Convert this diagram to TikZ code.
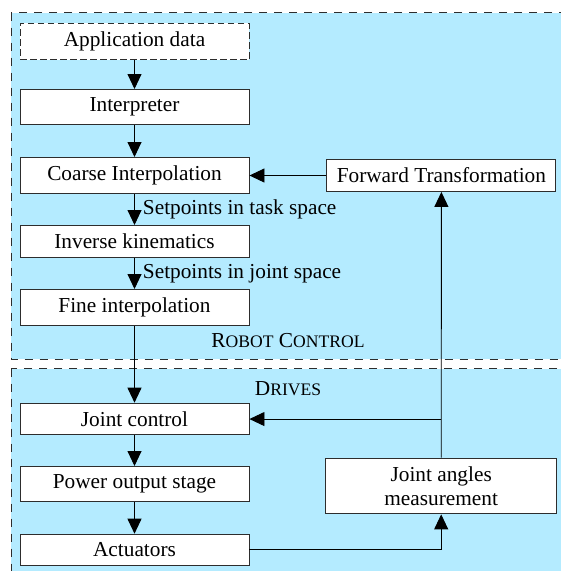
\documentclass[tikz,border=0pt]{standalone}
\usepackage{fontspec}
\setmainfont{Liberation Serif}
\usetikzlibrary{arrows.meta}
\definecolor{regionblue}{RGB}{180,235,255}
\definecolor{edgegray}{RGB}{45,45,45}
\newcommand{\bigfont}{\fontsize{21.3}{24}\selectfont}
\newcommand{\scfont}{\fontsize{17.6}{20}\selectfont}
\tikzset{
  region/.style={fill=regionblue, draw=edgegray, line width=0.9pt, dash pattern=on 8.5pt off 6.5pt},
  blockbox/.style={draw=edgegray, fill=white, line width=0.9pt, minimum width=229pt,
    inner xsep=6pt, inner ysep=8.4pt, font=\bigfont, anchor=north, align=center},
  conn/.style={draw=black, line width=0.9pt, -{Triangle[length=15pt,width=14pt]}},
  lbl/.style={font=\bigfont, anchor=west, inner xsep=8pt, inner ysep=0pt},
  title/.style={anchor=base, inner sep=0pt, font=\bigfont}
}
\begin{document}
\begin{tikzpicture}[x=1pt,y=-1pt]
\clip (0,0) rectangle (561,571);
\fill[white] (0,0) rectangle (561,571);
% regions
\path[region] (11,12.5) rectangle (580,359);
\path[region] (11,368.5) rectangle (580,590);
% top blocks
\node[blockbox, dash pattern=on 6.5pt off 3.5pt] (app) at (134.5,23) {Application data};
\node[blockbox] (int) at (134.5,89) {Interpreter};
\node[blockbox] (co) at (134.5,157) {Coarse Interpolation};
\node[blockbox] (ik) at (134.5,225) {Inverse kinematics};
\node[blockbox] (fi) at (134.5,289) {Fine interpolation};
\node[blockbox, anchor=west] (ft) at ([xshift=77pt]co.east) {Forward Transformation};
% bottom blocks
\node[blockbox] (jc) at (134.5,402.7) {Joint control};
\node[blockbox] (po) at (134.5,466) {Power output stage};
\node[blockbox] (ac) at (134.5,533.7) {Actuators};
\node[blockbox, minimum width=231pt] (ja) at (441.2,457.7) {Joint angles\\measurement};
% titles
\node[title] (rc) at (288,347) {R{\scfont OBOT} C{\scfont ONTROL}};
\node[title] (dr) at (288,395) {D{\scfont RIVES}};
% connectors
\draw[conn] (app) -- (int);
\draw[conn] (int) -- (co);
\draw[conn] (co) -- node[lbl] {Setpoints in task space} (ik);
\draw[conn] (ik) -- node[lbl] {Setpoints in joint space} (fi);
\draw[conn] (fi) -- (jc);
\draw[conn] (jc) -- (po);
\draw[conn] (po) -- (ac);
\draw[conn] (ft.west) -- (ft.west -| co.east);
\draw[conn] (ac.east) -| (ja.south);
\draw[conn] (ja.north) -- (ft.south);
\coordinate (br) at (ja.north |- jc.east);
\draw[conn] (br) -- (jc.east);
\end{tikzpicture}
\end{document}
